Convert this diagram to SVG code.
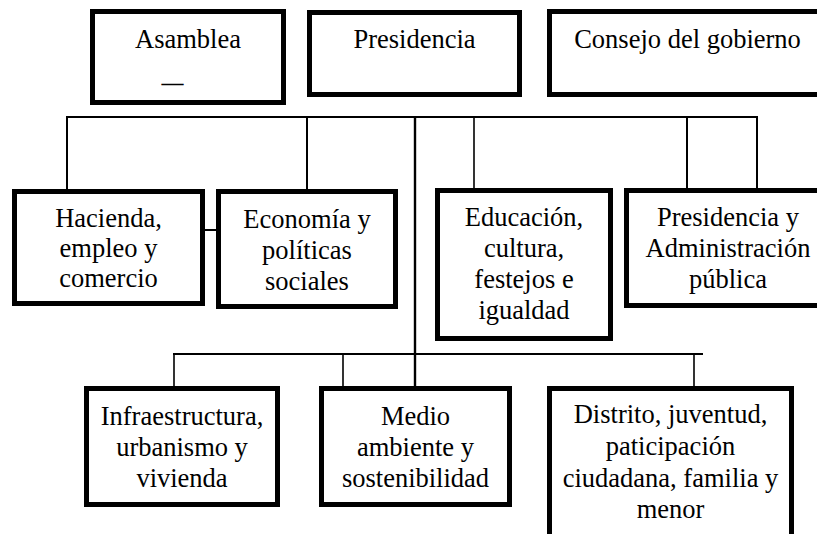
<svg xmlns="http://www.w3.org/2000/svg" width="817" height="534" viewBox="0 0 817 534">
<style>
.box{fill:#fff;stroke:#000;stroke-width:5}
.t{font-size:26.5px;fill:#000;text-anchor:middle}
.c{stroke:#000;stroke-width:2;fill:none}
.c2{stroke:#000;stroke-width:1.6;fill:none}
</style>
<rect width="817" height="534" fill="#fff"/>
<g id="connectors">
<line class="c" x1="66" y1="117" x2="758" y2="117"/>
<line class="c" x1="67" y1="117" x2="67" y2="189"/>
<line class="c" x1="307" y1="117" x2="307" y2="189"/>
<line class="c" x1="415" y1="116" x2="415" y2="386" style="stroke-width:2.4"/>
<line class="c2" x1="474" y1="117" x2="474" y2="188"/>
<line class="c" x1="687" y1="117" x2="687" y2="189"/>
<line class="c" x1="757" y1="116" x2="757" y2="189"/>
<line class="c" x1="205" y1="230" x2="216" y2="230"/>
<line class="c" x1="173" y1="354" x2="703" y2="354"/>
<line class="c2" x1="174" y1="354" x2="174" y2="386"/>
<line class="c2" x1="343" y1="354" x2="343" y2="386"/>
<line class="c2" x1="694" y1="354" x2="694" y2="386"/>
</g>
<g font-family="Liberation Serif, DejaVu Serif, serif">
<g id="asamblea">
<rect class="box" x="92.5" y="11.5" width="191" height="91"/>
<text class="t" x="188" y="48">Asamblea</text>
<text class="t" x="172.5" y="90" style="font-size:22px;font-weight:bold">—</text>
</g>
<g id="presidencia">
<rect class="box" x="309.5" y="12.5" width="210" height="82"/>
<text class="t" x="414.5" y="48">Presidencia</text>
</g>
<g id="consejo">
<rect class="box" x="549.5" y="11.5" width="280" height="83"/>
<text class="t" x="687.5" y="48">Consejo del gobierno</text>
</g>
<g id="hacienda">
<rect class="box" x="14.5" y="191.5" width="188" height="112"/>
<text class="t" x="108.5" y="227">Hacienda,</text>
<text class="t" x="108.5" y="257">empleo y</text>
<text class="t" x="108.5" y="287">comercio</text>
</g>
<g id="economia">
<rect class="box" x="218.5" y="191.5" width="177" height="115"/>
<text class="t" x="307" y="228">Economía y</text>
<text class="t" x="307" y="259">políticas</text>
<text class="t" x="307" y="290">sociales</text>
</g>
<g id="educacion">
<rect class="box" x="437.5" y="190.5" width="173" height="148"/>
<text class="t" x="524" y="226">Educación,</text>
<text class="t" x="524" y="257">cultura,</text>
<text class="t" x="524" y="288">festejos e</text>
<text class="t" x="524" y="319">igualdad</text>
</g>
<g id="presidencia-admin">
<rect class="box" x="626.5" y="190.5" width="200" height="115"/>
<text class="t" x="728" y="226">Presidencia y</text>
<text class="t" x="728" y="257">Administración</text>
<text class="t" x="728" y="288">pública</text>
</g>
<g id="infraestructura">
<rect class="box" x="86.5" y="388.5" width="191" height="116"/>
<text class="t" x="182" y="425">Infraestructura,</text>
<text class="t" x="182" y="456">urbanismo y</text>
<text class="t" x="182" y="487">vivienda</text>
</g>
<g id="medio">
<rect class="box" x="321.5" y="388.5" width="188" height="116"/>
<text class="t" x="415.5" y="425">Medio</text>
<text class="t" x="415.5" y="456">ambiente y</text>
<text class="t" x="415.5" y="487">sostenibilidad</text>
</g>
<g id="distrito">
<rect class="box" x="549.5" y="388.5" width="242" height="160"/>
<text class="t" x="670.5" y="423">Distrito, juventud,</text>
<text class="t" x="670.5" y="455">paticipación</text>
<text class="t" x="670.5" y="487">ciudadana, familia y</text>
<text class="t" x="670.5" y="518">menor</text>
</g>
</g>
</svg>
